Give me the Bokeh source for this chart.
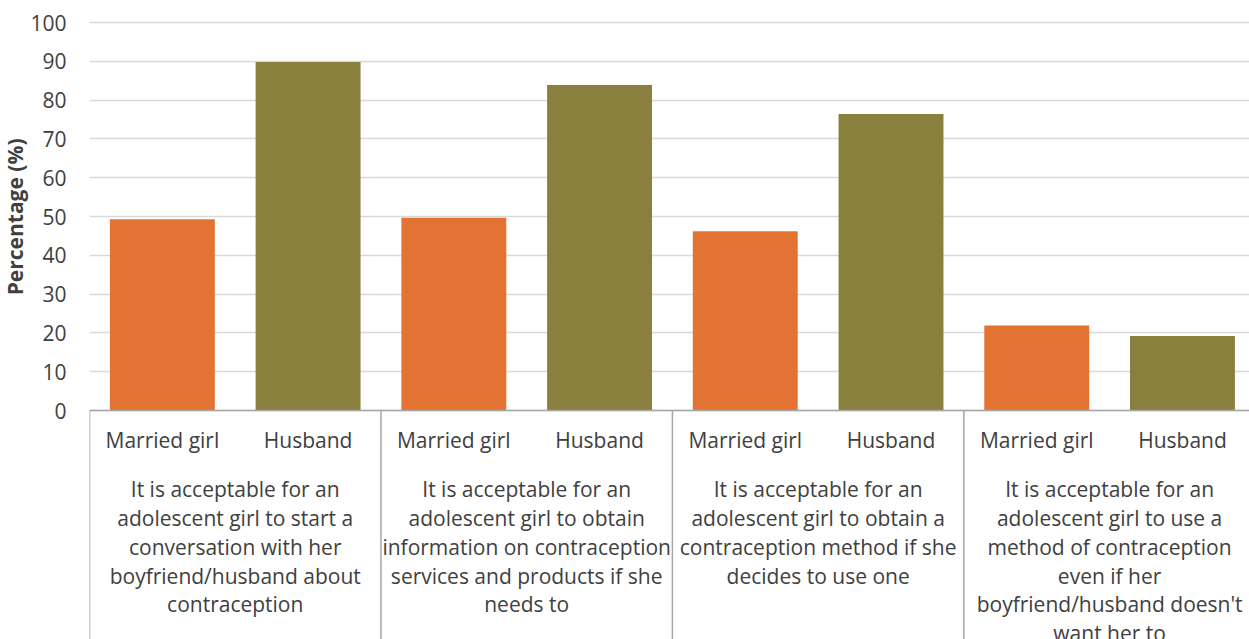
import math
from bokeh.plotting import figure
from bokeh.models import Range1d, FixedTicker, Title
from bokeh.core.properties import value
from bokeh.embed import file_html
from bokeh.resources import INLINE

# ---- data ----
statements = [
    "It is acceptable for an\nadolescent girl to start a\nconversation with her\nboyfriend/husband about\ncontraception",
    "It is acceptable for an\nadolescent girl to obtain\ninformation on contraception\nservices and products if she\nneeds to",
    "It is acceptable for an\nadolescent girl to obtain a\ncontraception method if she\ndecides to use one",
    "It is acceptable for an\nadolescent girl to use a\nmethod of contraception\neven if her\nboyfriend/husband doesn't\nwant her to",
]
respondents = ["Married girl", "Husband"]
married_girl = [49.3, 49.7, 46.2, 21.9]
husband = [89.8, 83.9, 76.4, 19.2]
y_ticks = [0, 10, 20, 30, 40, 50, 60, 70, 80, 90, 100]

ORANGE = "#E37332"
OLIVE = "#8A803E"
TEXT = "#404040"
GRID = "#D9D9D9"
AXIS = "#A6A6A6"
FONT = "Open Sans"

n = len(statements)
k = len(respondents)

p = figure(width=1249, height=639, output_backend="svg", toolbar_location=None,
           x_range=Range1d(0, 7.96), y_range=Range1d(-59, 103.1),
           min_border_left=89, min_border_right=0, min_border_top=10, min_border_bottom=0)
p.outline_line_color = None
p.xaxis.visible = False
p.xgrid.visible = False
p.ygrid.ticker = FixedTicker(ticks=y_ticks)
p.ygrid.grid_line_color = GRID
p.ygrid.grid_line_width = 1.5

ax = p.yaxis[0]
ax.ticker = FixedTicker(ticks=y_ticks)
ax.axis_line_color = None
ax.major_tick_line_color = None
ax.minor_tick_line_color = None
ax.major_tick_out = 0
ax.major_tick_in = 0
ax.minor_tick_out = 0
ax.minor_tick_in = 0
ax.major_label_standoff = 23
ax.major_label_text_font = FONT
ax.major_label_text_font_size = "21px"
ax.major_label_text_color = TEXT

# y axis title, placed over the 0-100 span
p.add_layout(Title(text="Percentage (%)", align="right", offset=128,
                   text_font=FONT, text_font_style="bold", text_font_size="21px",
                   text_color=TEXT, standoff=-3), "left")

# bars
x_mg = [k * i + 0.5 for i in range(n)]
x_hb = [k * i + 1.5 for i in range(n)]
p.vbar(x=x_mg, top=married_girl, bottom=0, width=0.72, fill_color=ORANGE, line_color=None)
p.vbar(x=x_hb, top=husband, bottom=0, width=0.72, fill_color=OLIVE, line_color=None)

# category axis line and separators
p.segment(x0=[0], y0=[0], x1=[k * n], y1=[0], line_color=AXIS, line_width=1.5)
sep_x = [k * i for i in range(n + 1)]
p.segment(x0=sep_x, y0=[0] * len(sep_x), x1=sep_x, y1=[-60] * len(sep_x),
          line_color=AXIS, line_width=1.5)

# sub-category labels
sub_x = x_mg + x_hb
sub_t = [respondents[0]] * n + [respondents[1]] * n
p.text(x=sub_x, y=[-7.7] * len(sub_x), text=sub_t, text_align="center",
       text_baseline="middle", text_font=value(FONT), text_font_size="21px",
       text_color=TEXT)

# group labels (line by line)
gx, gy, gt = [], [], []
for i, s in enumerate(statements):
    for j, line in enumerate(s.split("\n")):
        gx.append(k * i + k / 2)
        gy.append(-20.1 - j * 7.47)
        gt.append(line)
p.text(x=gx, y=gy, text=gt, text_align="center", text_baseline="middle",
       text_font=value(FONT), text_font_size="21px", text_color=TEXT)

open("out.html", "w").write(file_html(p, INLINE))
